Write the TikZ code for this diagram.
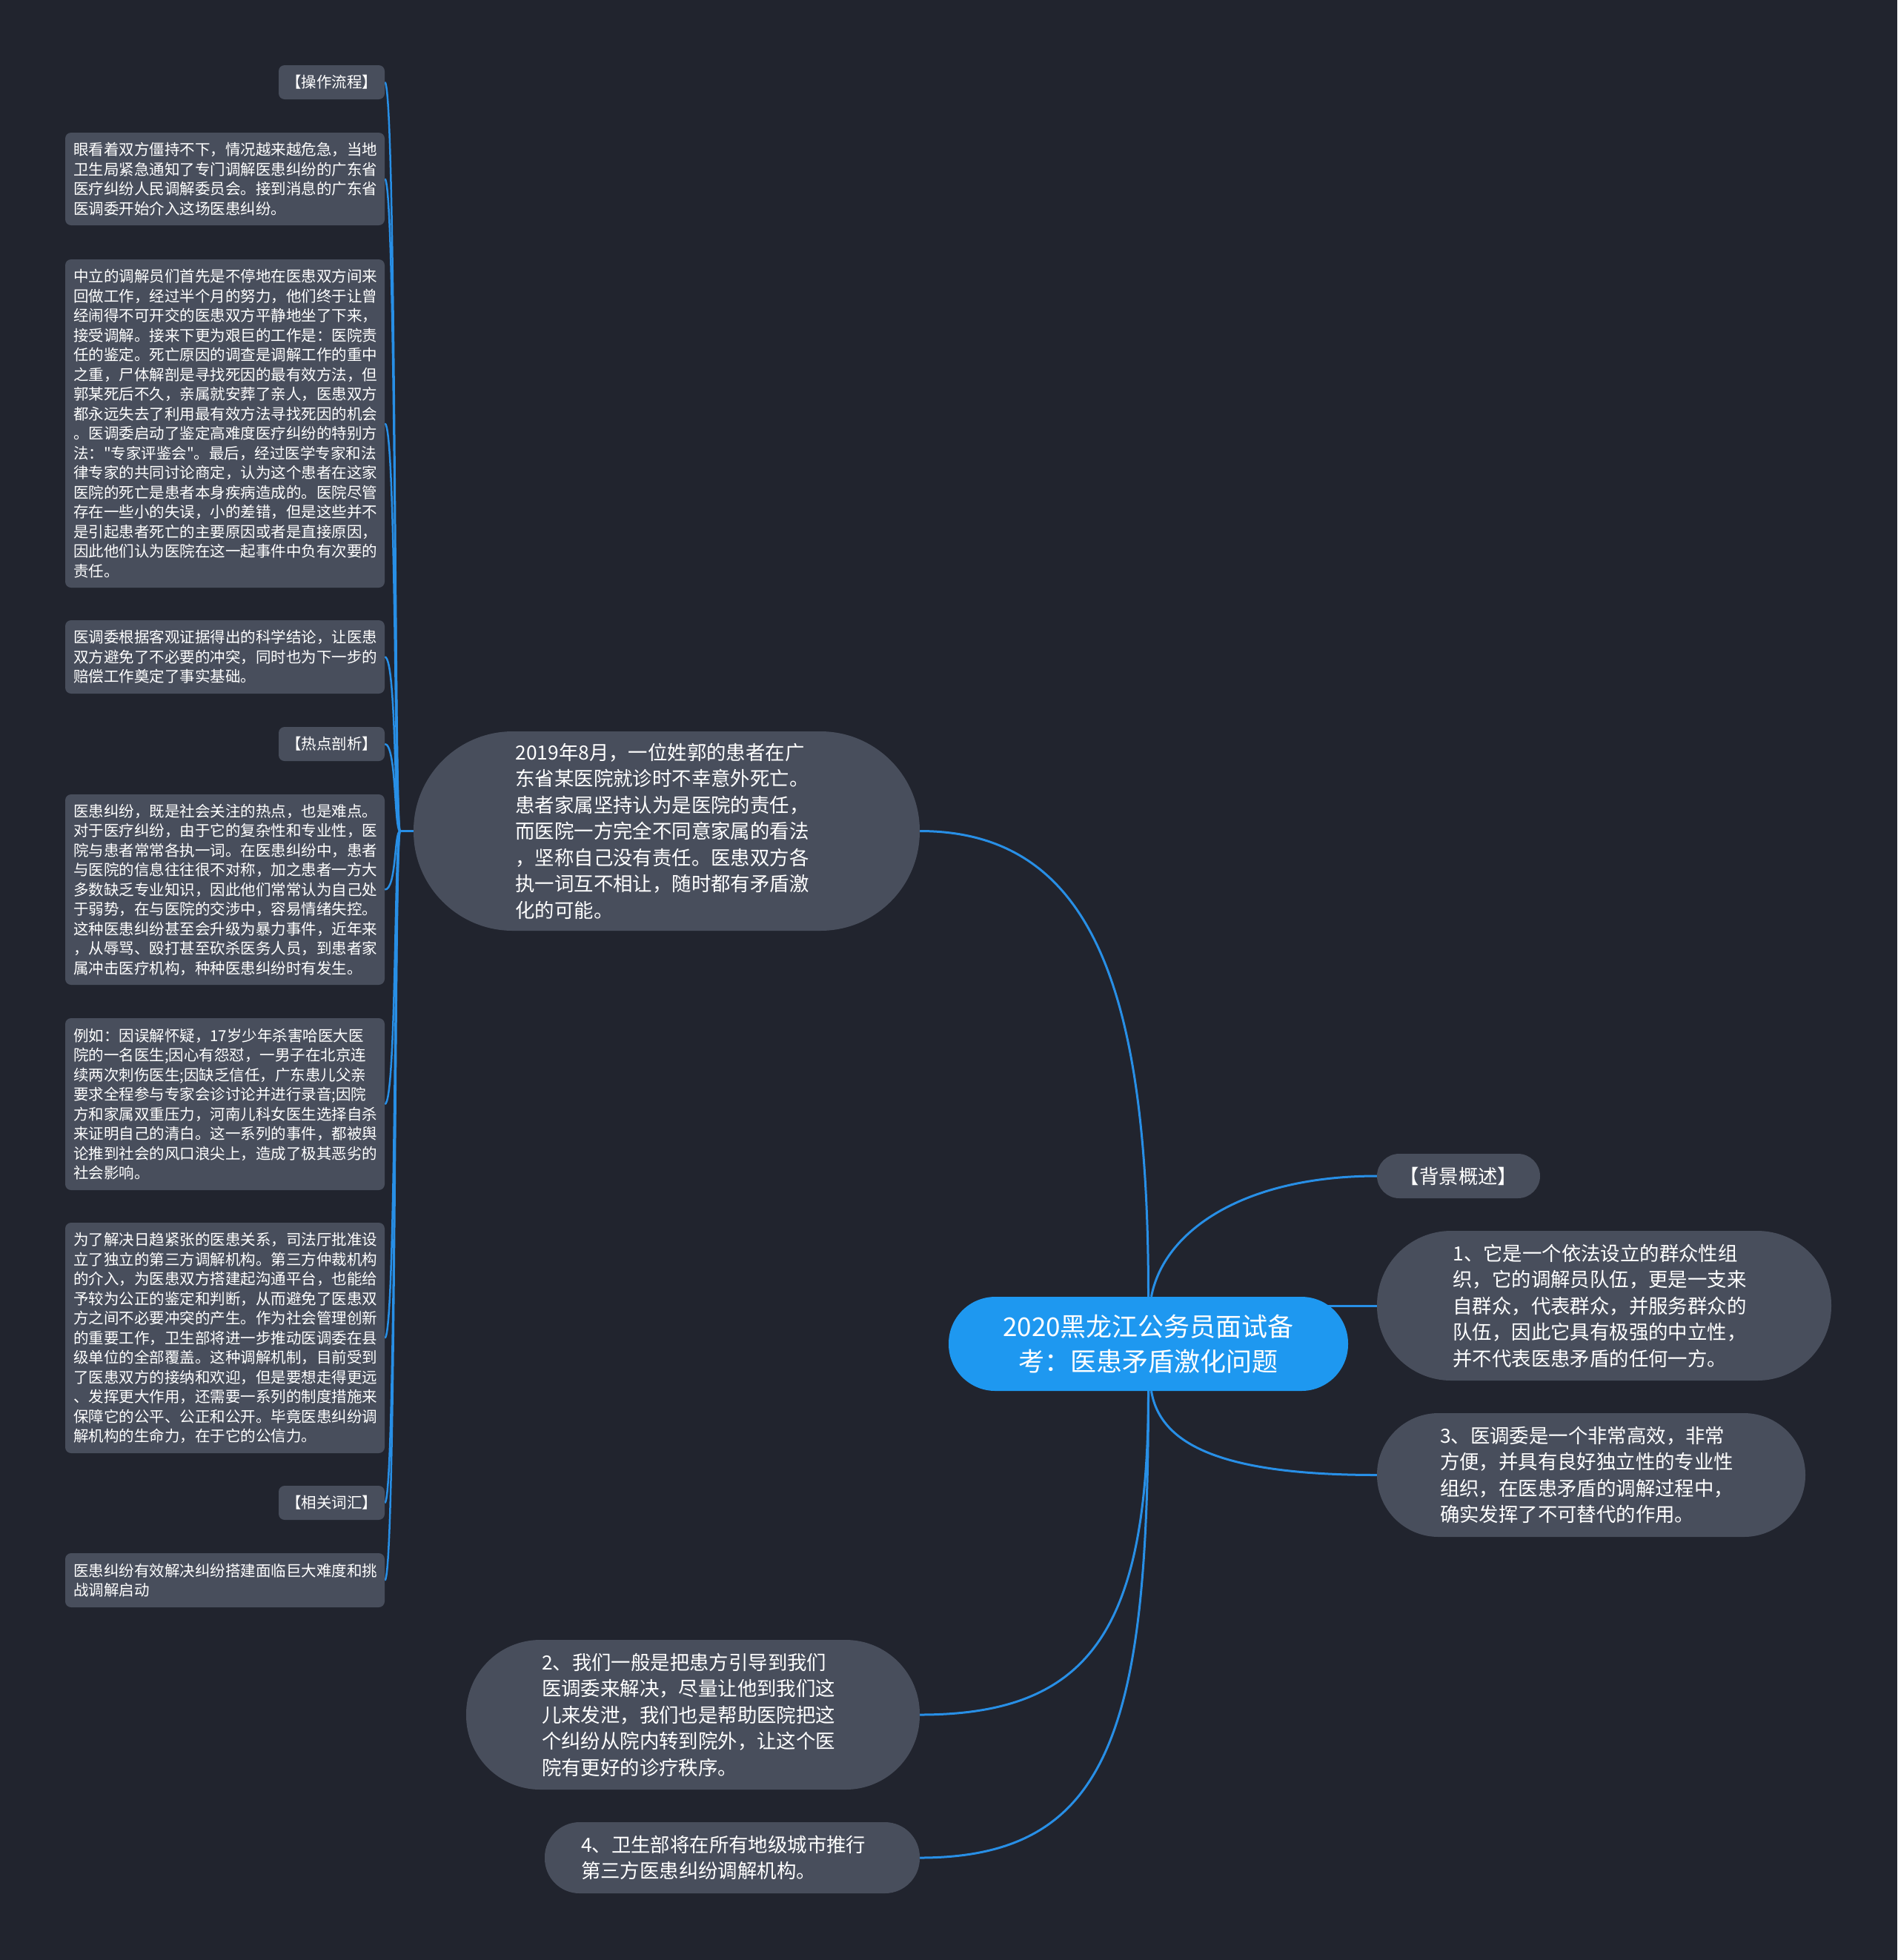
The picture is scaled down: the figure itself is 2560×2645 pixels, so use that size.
\documentclass[tikz,border=0pt]{standalone}
\usepackage{fontspec}
\newfontfamily\cjk{Noto Sans CJK SC}
\definecolor{bgc}{HTML}{21242E}
\definecolor{nodefill}{HTML}{484E5C}
\definecolor{centerc}{HTML}{1E98F0}
\definecolor{edgec}{HTML}{288FE6}
\pgfdeclarelayer{bglayer}
\pgfdeclarelayer{edgelayer}
\pgfsetlayers{bglayer,edgelayer,main}
\begin{document}
\begin{tikzpicture}[x=1pt,y=-1pt,
  leftbox/.style={fill=nodefill, rounded corners=8pt, text=white, font=\cjk\fontsize{20.5}{26.5}\selectfont, align=left, inner xsep=11pt, inner ysep=0pt, text width=409pt},
  tagbox/.style={fill=nodefill, rounded corners=8pt, text=white, font=\cjk\fontsize{20.5}{26.5}\selectfont, align=center, inner sep=0pt, minimum width=143pt, minimum height=46pt},
  pill/.style={fill=nodefill, text=white, font=\cjk\fontsize{26.4}{35.5}\selectfont, align=left, text width=408pt, inner sep=0pt},
  link/.style={draw=edgec, line width=3pt},
  leftlink/.style={draw=edgec, line width=2.5pt}
]
\begin{pgfonlayer}{bglayer}
\fill[bgc] (0,0) rectangle (2560,2645);
\end{pgfonlayer}
\useasboundingbox (0,0) rectangle (2560,2645);

% left column
\node[tagbox] (A) at (447.5,111) {【操作流程】};
\node[leftbox, minimum height=125pt] (B) at (303.5,241.5) {眼看着双方僵持不下，情况越来越危急，当地\\卫生局紧急通知了专门调解医患纠纷的广东省\\医疗纠纷人民调解委员会。接到消息的广东省\\医调委开始介入这场医患纠纷。};
\node[leftbox, minimum height=443pt] (C) at (303.5,571.5) {中立的调解员们首先是不停地在医患双方间来\\回做工作，经过半个月的努力，他们终于让曾\\经闹得不可开交的医患双方平静地坐了下来，\\接受调解。接来下更为艰巨的工作是：医院责\\任的鉴定。死亡原因的调查是调解工作的重中\\之重，尸体解剖是寻找死因的最有效方法，但\\郭某死后不久，亲属就安葬了亲人，医患双方\\都永远失去了利用最有效方法寻找死因的机会\\。医调委启动了鉴定高难度医疗纠纷的特别方\\法："专家评鉴会"。最后，经过医学专家和法\\律专家的共同讨论商定，认为这个患者在这家\\医院的死亡是患者本身疾病造成的。医院尽管\\存在一些小的失误，小的差错，但是这些并不\\是引起患者死亡的主要原因或者是直接原因，\\因此他们认为医院在这一起事件中负有次要的\\责任。};
\node[leftbox, minimum height=99pt] (D) at (303.5,886.5) {医调委根据客观证据得出的科学结论，让医患\\双方避免了不必要的冲突，同时也为下一步的\\赔偿工作奠定了事实基础。};
\node[tagbox] (E) at (447.5,1004) {【热点剖析】};
\node[leftbox, minimum height=257pt] (F) at (303.5,1200.5) {医患纠纷，既是社会关注的热点，也是难点。\\对于医疗纠纷，由于它的复杂性和专业性，医\\院与患者常常各执一词。在医患纠纷中，患者\\与医院的信息往往很不对称，加之患者一方大\\多数缺乏专业知识，因此他们常常认为自己处\\于弱势，在与医院的交涉中，容易情绪失控。\\这种医患纠纷甚至会升级为暴力事件，近年来\\，从辱骂、殴打甚至砍杀医务人员，到患者家\\属冲击医疗机构，种种医患纠纷时有发生。};
\node[leftbox, minimum height=232pt] (G) at (303.5,1490) {例如：因误解怀疑，17岁少年杀害哈医大医\\院的一名医生;因心有怨怼，一男子在北京连\\续两次刺伤医生;因缺乏信任，广东患儿父亲\\要求全程参与专家会诊讨论并进行录音;因院\\方和家属双重压力，河南儿科女医生选择自杀\\来证明自己的清白。这一系列的事件，都被舆\\论推到社会的风口浪尖上，造成了极其恶劣的\\社会影响。};
\node[leftbox, minimum height=311pt] (H) at (303.5,1805.5) {为了解决日趋紧张的医患关系，司法厅批准设\\立了独立的第三方调解机构。第三方仲裁机构\\的介入，为医患双方搭建起沟通平台，也能给\\予较为公正的鉴定和判断，从而避免了医患双\\方之间不必要冲突的产生。作为社会管理创新\\的重要工作，卫生部将进一步推动医调委在县\\级单位的全部覆盖。这种调解机制，目前受到\\了医患双方的接纳和欢迎，但是要想走得更远\\、发挥更大作用，还需要一系列的制度措施来\\保障它的公平、公正和公开。毕竟医患纠纷调\\解机构的生命力，在于它的公信力。};
\node[tagbox] (I) at (447.5,2028) {【相关词汇】};
\node[leftbox, minimum height=73pt] (J) at (303.5,2132.5) {医患纠纷有效解决纠纷搭建面临巨大难度和挑\\战调解启动};

% main branches
\node[pill, minimum width=683pt, minimum height=269pt, rounded corners=134pt] (p1) at (899.5,1121.5) {2019年8月，一位姓郭的患者在广\\东省某医院就诊时不幸意外死亡。\\患者家属坚持认为是医院的责任，\\而医院一方完全不同意家属的看法\\，坚称自己没有责任。医患双方各\\执一词互不相让，随时都有矛盾激\\化的可能。};
\node[fill=centerc, text=white, font=\cjk\fontsize{35}{46.5}\selectfont, align=center, minimum width=539pt, minimum height=127pt, rounded corners=63pt, inner sep=0pt] (c) at (1549.5,1813.5) {2020黑龙江公务员面试备\\考：医患矛盾激化问题};
\node[fill=nodefill, text=white, font=\cjk\fontsize{26.4}{35.5}\selectfont, minimum width=220pt, minimum height=60pt, rounded corners=30pt, inner sep=0pt] (bk) at (1968,1587) {【背景概述】};
\node[pill, minimum width=613pt, minimum height=202pt, rounded corners=100pt] (n1) at (2164.5,1762) {1、它是一个依法设立的群众性组\\织，它的调解员队伍，更是一支来\\自群众，代表群众，并服务群众的\\队伍，因此它具有极强的中立性，\\并不代表医患矛盾的任何一方。};
\node[pill, minimum width=578pt, minimum height=167pt, rounded corners=83pt] (n3) at (2147,1990.5) {3、医调委是一个非常高效，非常\\方便，并具有良好独立性的专业性\\组织，在医患矛盾的调解过程中，\\确实发挥了不可替代的作用。};
\node[pill, minimum width=612pt, minimum height=202pt, rounded corners=100pt] (n2) at (935,2314) {2、我们一般是把患方引导到我们\\医调委来解决，尽量让他到我们这\\儿来发泄，我们也是帮助医院把这\\个纠纷从院内转到院外，让这个医\\院有更好的诊疗秩序。};
\node[pill, minimum width=506pt, minimum height=96pt, rounded corners=47pt] (n4) at (988,2507) {4、卫生部将在所有地级城市推行\\第三方医患纠纷调解机构。};

\coordinate (hub) at ([xshift=-18pt]p1.west);

\begin{pgfonlayer}{edgelayer}
\draw[link] (c.north) .. controls +(0,-400) and +(239,0) .. (p1.east);
\draw[link] ([xshift=4pt]c.north) .. controls +(17,-90) and +(-178,0) .. (bk.west);
\draw[link] (n1.west) -- (n1.west -| c.center);
\draw[link] ([xshift=4pt]c.south) .. controls +(12,73) and +(-208,0) .. (n3.west);
\draw[link] (c.south) .. controls +(0,323) and +(229,0) .. (n2.east);
\draw[link] (c.south) .. controls +(0,453) and +(259,0) .. (n4.east);
\draw[leftlink] (p1.west) -- (hub);
\foreach \k in {A,B,C,D,E,F,G,H,I,J}{
  \draw[leftlink] (hub) .. controls +(-8,0) and +(16,0) .. (\k.east);
}
\end{pgfonlayer}
\end{tikzpicture}
\end{document}
